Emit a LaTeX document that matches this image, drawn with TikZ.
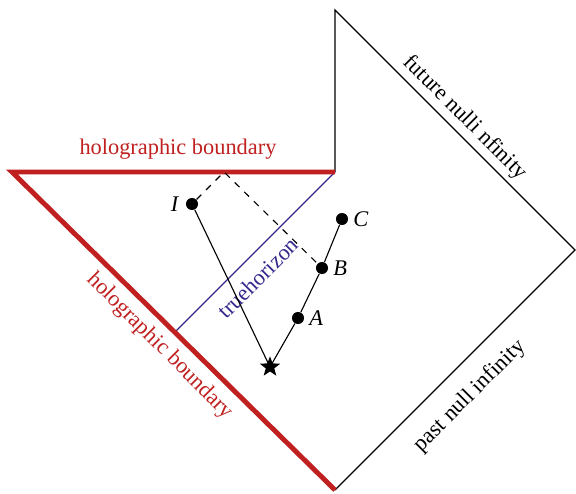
\documentclass[tikz,border=0pt]{standalone}
\usepackage{fontspec}
\setmainfont{Liberation Serif}
\usepackage{tikz}
\usetikzlibrary{positioning, shapes.geometric}
\definecolor{holored}{RGB}{192,32,32}
\definecolor{horblue}{RGB}{52,40,140}

\begin{document}
\begin{tikzpicture}[x=0.447pt, y=-0.447pt,
    dot/.style={circle, fill=black, inner sep=0pt, minimum size=5.4pt},
    event/.style={star, star points=5, star point ratio=2.4, fill=black, inner sep=0pt, minimum size=9.6pt},
    bdry/.style={holored, line width=2.2pt},
    lbl/.style={font=\itshape, inner sep=1pt}]
    \useasboundingbox (0,0) rectangle (576,493);
    % corners of the diagram
    \coordinate (top) at (335,10);
    \coordinate (right) at (575,250);
    \coordinate (bottom) at (335,490);
    \coordinate (left) at (12,172);
    \coordinate (corner) at (335,172);
    \coordinate (hend) at (175,332);
    \coordinate (kink) at (224,172);
    % null infinity
    \draw[line width=0.5pt] (corner) -- (top) -- (right) -- (bottom);
    \node[rotate=-45] at (465,118) {future nulli nfinity};
    \node[rotate=45] at (470,396) {past null infinity};
    % horizon
    \draw[horblue, line width=0.5pt] (corner) -- (hend);
    \node[horblue, rotate=45] at (258,278) {truehorizon};
    % boundary
    \draw[bdry, line join=miter] (corner) -- (left) -- (bottom);
    \node[holored] at (178,149) {holographic boundary};
    \node[holored, rotate=-45] at (160,346) {holographic boundary};
    % events
    \node[event] (S) at (270,367) {};
    \node[dot] (I) at (192,204) {};
    \node[dot] (A) at (298,318) {};
    \node[dot] (B) at (322,268) {};
    \node[dot] (C) at (342,219) {};
    \node[lbl, left=2pt of I] {I};
    \node[lbl, right=1pt of A] {A};
    \node[lbl, right=1pt of B] {B};
    \node[lbl, right=1pt of C] {C};
    \draw[line width=0.5pt] (I) -- (S.center) -- (A) -- (B) -- (C);
    \draw[dashed, line width=0.5pt] (I) -- (kink) -- (B);
\end{tikzpicture}
\end{document}
